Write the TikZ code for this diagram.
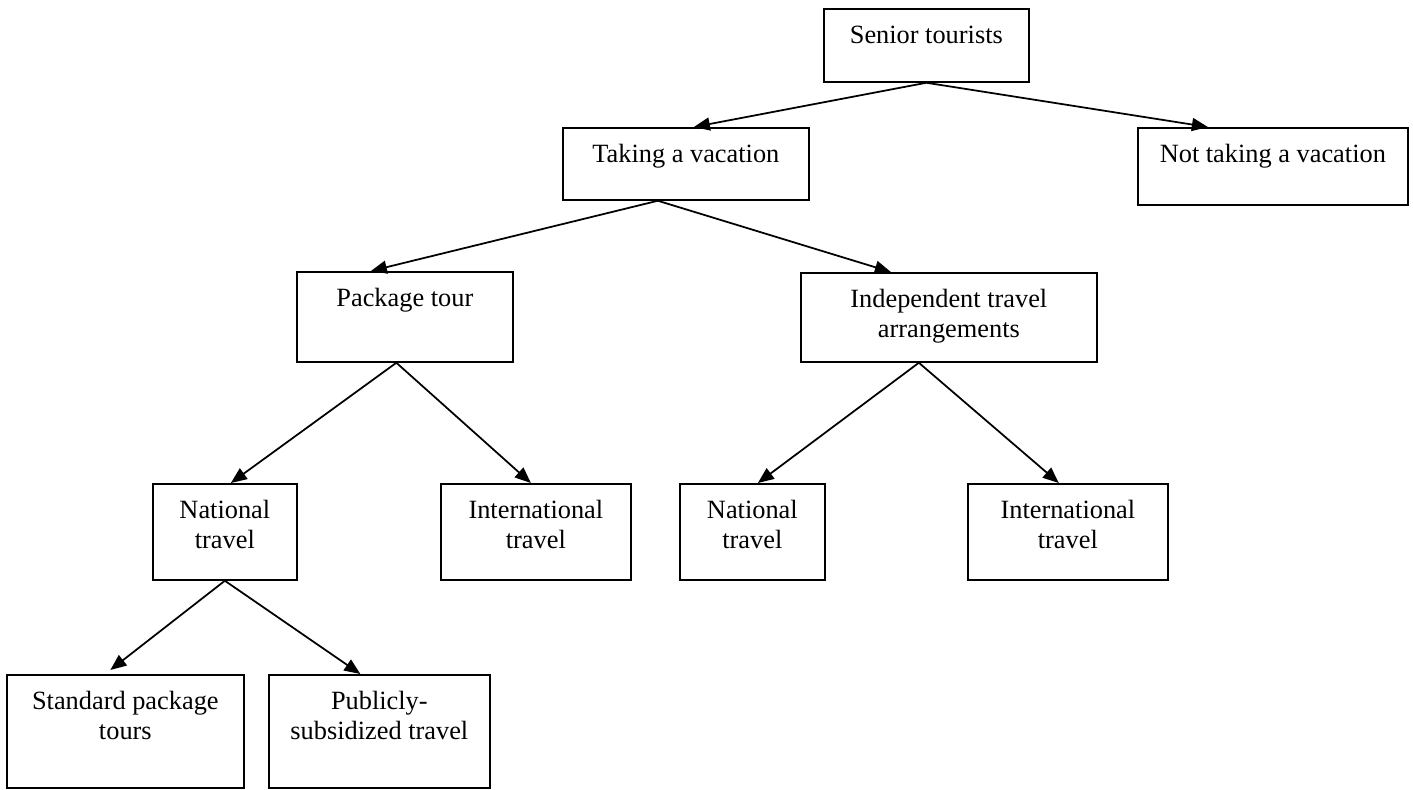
\documentclass[tikz,border=0pt]{standalone}
\usepackage{fontspec}
\setmainfont{Liberation Serif}
\usetikzlibrary{arrows.meta}
\newcommand{\boxtext}[3]{\parbox[t][#2][t]{#1}{\centering\rule{0pt}{0.7cm}#3}}
\begin{document}
\begin{tikzpicture}[x=0.02cm,y=-0.02cm]
            \useasboundingbox (0,0) rectangle (1413,789);
            \begin{scope}[every node/.style={draw,line width=1pt,inner sep=0pt,anchor=north west,font=\fontsize{15}{17}\selectfont}]
                \node (st) at (823,8) {\boxtext{4.1cm}{1.46cm}{Senior tourists}};
                \node (tv) at (562,127) {\boxtext{4.92cm}{1.44cm}{Taking a vacation}};
                \node (nt) at (1137,127) {\boxtext{5.4cm}{1.54cm}{Not taking a vacation}};
                \node (pt) at (296,271) {\boxtext{4.32cm}{1.8cm}{Package tour}};
                \node (it) at (800,272) {\boxtext{5.92cm}{1.78cm}{Independent travel\\arrangements}};
                \node (nl) at (152,483) {\boxtext{2.88cm}{1.92cm}{National\\travel}};
                \node (il) at (440,483) {\boxtext{3.8cm}{1.92cm}{International\\travel}};
                \node (nr) at (679,483) {\boxtext{2.9cm}{1.92cm}{National\\travel}};
                \node (ir) at (967,483) {\boxtext{4.0cm}{1.92cm}{International\\travel}};
                \node (sp) at (6,674) {\boxtext{4.74cm}{2.26cm}{Standard package\\tours}};
                \node (ps) at (268,674) {\boxtext{4.42cm}{2.26cm}{Publicly-\\subsidized travel}};
            \end{scope}
            \begin{scope}[line width=1pt,-{Triangle[length=0.32cm,width=0.26cm]}]
                \draw (st.south) -- ([xshift=0.16cm]tv.north);
                \draw (st.south) -- ([xshift=-1.3cm]nt.north);
                \draw ([xshift=-0.56cm]tv.south) -- ([xshift=-0.68cm]pt.north);
                \draw ([xshift=-0.56cm]tv.south) -- ([xshift=-1.16cm]it.north);
                \draw ([xshift=-0.17cm]pt.south) -- ([xshift=0.12cm]nl.north);
                \draw ([xshift=-0.17cm]pt.south) -- ([xshift=-0.1cm]il.north);
                \draw ([xshift=-0.6cm]it.south) -- ([xshift=0.11cm]nr.north);
                \draw ([xshift=-0.6cm]it.south) -- ([xshift=-0.18cm]ir.north);
                \draw (nl.south) -- ([xshift=-0.3cm,yshift=0.08cm]sp.north);
                \draw (nl.south) -- ([xshift=-0.38cm]ps.north);
            \end{scope}
        \end{tikzpicture}
\end{document}
